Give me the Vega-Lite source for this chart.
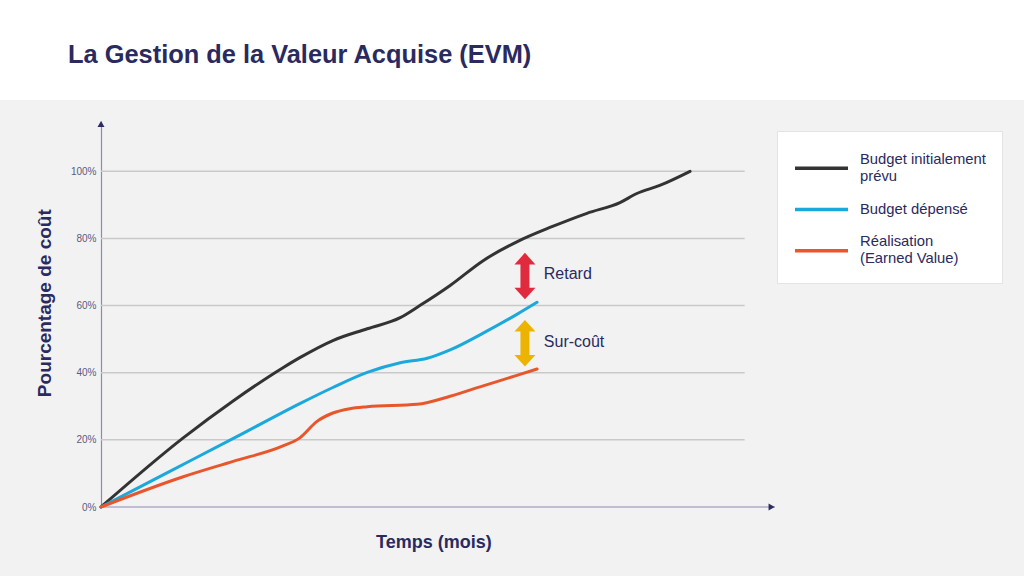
{
  "$schema": "https://vega.github.io/schema/vega-lite/v6.json",
  "background": "#f2f2f2",
  "padding": {"left": 0, "top": 0, "right": 0, "bottom": 26},
  "autosize": {"type": "pad"},
  "spacing": 20,
  "center": true,
  "config": {"view": {"stroke": null}, "font": "Liberation Sans"},
  "datasets": {
    "curves": [
      {"serie": "Budget initialement prévu", "t": 0, "pct": 0},
      {"serie": "Budget initialement prévu", "t": 12.2, "pct": 20.6},
      {"serie": "Budget initialement prévu", "t": 19.6, "pct": 31.6},
      {"serie": "Budget initialement prévu", "t": 27.0, "pct": 41.5},
      {"serie": "Budget initialement prévu", "t": 29.5, "pct": 44.5},
      {"serie": "Budget initialement prévu", "t": 34.4, "pct": 49.6},
      {"serie": "Budget initialement prévu", "t": 39.5, "pct": 53.1},
      {"serie": "Budget initialement prévu", "t": 44.4, "pct": 56.4},
      {"serie": "Budget initialement prévu", "t": 47.3, "pct": 60.0},
      {"serie": "Budget initialement prévu", "t": 51.8, "pct": 66.0},
      {"serie": "Budget initialement prévu", "t": 56.7, "pct": 73.4},
      {"serie": "Budget initialement prévu", "t": 61.7, "pct": 79.0},
      {"serie": "Budget initialement prévu", "t": 66.9, "pct": 83.5},
      {"serie": "Budget initialement prévu", "t": 72.1, "pct": 87.5},
      {"serie": "Budget initialement prévu", "t": 77.0, "pct": 90.7},
      {"serie": "Budget initialement prévu", "t": 79.5, "pct": 93.4},
      {"serie": "Budget initialement prévu", "t": 82.9, "pct": 95.8},
      {"serie": "Budget initialement prévu", "t": 87.4, "pct": 100},
      {"serie": "Budget dépensé", "t": 0, "pct": 0},
      {"serie": "Budget dépensé", "t": 10, "pct": 10.4},
      {"serie": "Budget dépensé", "t": 20, "pct": 20.8},
      {"serie": "Budget dépensé", "t": 29.5, "pct": 30.8},
      {"serie": "Budget dépensé", "t": 34.4, "pct": 35.6},
      {"serie": "Budget dépensé", "t": 39.5, "pct": 40.1},
      {"serie": "Budget dépensé", "t": 44.4, "pct": 43.0},
      {"serie": "Budget dépensé", "t": 48.4, "pct": 44.3},
      {"serie": "Budget dépensé", "t": 51.8, "pct": 46.8},
      {"serie": "Budget dépensé", "t": 56.7, "pct": 51.8},
      {"serie": "Budget dépensé", "t": 61.7, "pct": 57.4},
      {"serie": "Budget dépensé", "t": 64.7, "pct": 61.0},
      {"serie": "Réalisation (Earned Value)", "t": 0, "pct": 0},
      {"serie": "Réalisation (Earned Value)", "t": 12.2, "pct": 9.0},
      {"serie": "Réalisation (Earned Value)", "t": 19.6, "pct": 13.6},
      {"serie": "Réalisation (Earned Value)", "t": 27.0, "pct": 18.2},
      {"serie": "Réalisation (Earned Value)", "t": 29.5, "pct": 20.6},
      {"serie": "Réalisation (Earned Value)", "t": 32.05, "pct": 25.5},
      {"serie": "Réalisation (Earned Value)", "t": 34.4, "pct": 28.0},
      {"serie": "Réalisation (Earned Value)", "t": 36.9, "pct": 29.3},
      {"serie": "Réalisation (Earned Value)", "t": 39.5, "pct": 29.9},
      {"serie": "Réalisation (Earned Value)", "t": 46.9, "pct": 30.6},
      {"serie": "Réalisation (Earned Value)", "t": 51.8, "pct": 33.0},
      {"serie": "Réalisation (Earned Value)", "t": 56.7, "pct": 36.1},
      {"serie": "Réalisation (Earned Value)", "t": 61.7, "pct": 39.2},
      {"serie": "Réalisation (Earned Value)", "t": 64.7, "pct": 41.1}
    ],
    "grid": [
      {"pct": 20, "t": 0, "t2": 95.5},
      {"pct": 40, "t": 0, "t2": 95.5},
      {"pct": 60, "t": 0, "t2": 95.5},
      {"pct": 80, "t": 0, "t2": 95.5},
      {"pct": 100, "t": 0, "t2": 95.5}
    ],
    "baseline": [
      {"pct": 0, "t": 0, "t2": 100}
    ],
    "arrows": [
      {"name": "Retard", "t": 62.9, "pct": 74.0, "pct2": 63.6, "col": "#e02a3d"},
      {"name": "Sur-coût", "t": 62.9, "pct": 54.0, "pct2": 43.6, "col": "#ecb400"}
    ],
    "notes": [
      {"label": "Retard", "t": 65.7, "pct": 67.8},
      {"label": "Sur-coût", "t": 65.7, "pct": 47.55}
    ],
    "axisHeads": [
      {"dir": "up", "t": 0, "pct": 114.1},
      {"dir": "right", "t": 99.5, "pct": 0}
    ]
  },
  "vconcat": [
    {
      "width": 1024,
      "height": 100,
      "view": {"fill": "white", "stroke": null},
      "title": {
        "text": "La Gestion de la Valeur Acquise (EVM)",
        "anchor": "start",
        "frame": "group",
        "orient": "top",
        "offset": -88.3,
        "dx": 68,
        "baseline": "alphabetic",
        "fontSize": 25.4,
        "font": "Liberation Sans",
        "fontWeight": "bold",
        "color": "#2a2a5e"
      },
      "data": {"values": [{"a": 1}]},
      "mark": {"type": "point", "opacity": 0}
    },
    {
      "width": 822,
      "height": 386,
      "layer": [
        {
          "data": {"name": "grid"},
          "mark": {"type": "rule", "color": "#c9c9c9", "strokeWidth": 1.5},
          "encoding": {
            "x": {
              "field": "t", "type": "quantitative",
              "scale": {"domain": [0, 121.96], "nice": false, "zero": false},
              "axis": {
                "labels": false, "ticks": false, "grid": false, "domain": false,
                "title": "Temps (mois)", "titleFontSize": 18, "titleColor": "#2a2a5e",
                "titleFontWeight": "bold", "titleX": 332.4, "titleY": 40.7,
                "titleBaseline": "alphabetic", "titleAlign": "center"
              }
            },
            "x2": {"field": "t2"},
            "y": {
              "field": "pct", "type": "quantitative",
              "scale": {"domain": [0, 115], "nice": false, "zero": false},
              "axis": {
                "values": [0, 20, 40, 60, 80, 100],
                "labelExpr": "datum.value + '%'",
                "labelFontSize": 10, "labelColor": "#5b5a7f", "labelPadding": 5,
                "ticks": false, "grid": false,
                "domainColor": "#8b89b5", "domainWidth": 1.2,
                "title": "Pourcentage de coût", "titleFontSize": 19, "titleColor": "#2a2a5e",
                "titleFontWeight": "bold", "titleX": -50.4, "titleY": 181.7,
                "titleBaseline": "alphabetic", "titleAngle": -90, "titleAlign": "center"
              }
            }
          }
        },
        {
          "data": {"name": "baseline"},
          "mark": {"type": "rule", "color": "#8b89b5", "strokeWidth": 1.2},
          "encoding": {
            "x": {"field": "t", "type": "quantitative"},
            "x2": {"field": "t2"},
            "y": {"field": "pct", "type": "quantitative"}
          }
        },
        {
          "data": {"name": "curves"},
          "mark": {"type": "line", "strokeWidth": 3, "interpolate": "monotone", "strokeCap": "round"},
          "encoding": {
            "x": {"field": "t", "type": "quantitative"},
            "y": {"field": "pct", "type": "quantitative"},
            "color": {
              "field": "serie", "type": "nominal",
              "scale": {
                "domain": ["Budget initialement prévu", "Budget dépensé", "Réalisation (Earned Value)"],
                "range": ["#333333", "#1ba8dc", "#e8572b"]
              },
              "legend": {
                "orient": "none", "legendX": 777, "legendY": 131,
                "title": null, "fillColor": "white", "strokeColor": "#e3e3e3",
                "padding": 16, "symbolType": "stroke", "symbolSize": 2809,
                "symbolStrokeWidth": 3.5, "labelFontSize": 14.8, "labelColor": "#2a2a5e",
                "labelFont": "Liberation Sans", "labelOffset": 10, "rowPadding": 4.2, "labelLimit": 0,
                "labelBaseline": "middle",
                "labelExpr": "datum.label == 'Budget initialement prévu' ? ['Budget initialement', 'prévu'] : datum.label == 'Réalisation (Earned Value)' ? ['Réalisation', '(Earned Value)'] : [datum.label, '']",
                "encoding": {
                  "symbols": {
                    "y": {"value": 21.3}
                  },
                  "labels": {
                    "y": {"value": 21.3},
                    "dy": {"condition": {"test": "datum.value == 'Budget dépensé'", "value": 0}, "value": -8.75},
                    "lineHeight": {"condition": {"test": "datum.value == 'Budget dépensé'", "value": 8.75}, "value": 17.5}
                  }
                }
              }
            }
          }
        },
        {
          "data": {"name": "arrows"},
          "mark": {"type": "rule", "strokeWidth": 9},
          "encoding": {
            "x": {"field": "t", "type": "quantitative"},
            "y": {"field": "pct", "type": "quantitative"},
            "y2": {"field": "pct2"},
            "color": {"field": "col", "type": "nominal", "scale": null}
          }
        },
        {
          "data": {"name": "arrows"},
          "mark": {"type": "point", "filled": true, "opacity": 1, "size": 441, "shape": "M-1,0.55L0,-0.55L1,0.55Z"},
          "encoding": {
            "x": {"field": "t", "type": "quantitative"},
            "y": {"field": "pct", "type": "quantitative"},
            "color": {"field": "col", "type": "nominal", "scale": null}
          }
        },
        {
          "data": {"name": "arrows"},
          "mark": {"type": "point", "filled": true, "opacity": 1, "size": 441, "shape": "M-1,-0.55L0,0.55L1,-0.55Z"},
          "encoding": {
            "x": {"field": "t", "type": "quantitative"},
            "y": {"field": "pct2", "type": "quantitative"},
            "color": {"field": "col", "type": "nominal", "scale": null}
          }
        },
        {
          "data": {"name": "notes"},
          "mark": {"type": "text", "align": "left", "baseline": "alphabetic", "fontSize": 16, "color": "#2a2a5e", "font": "Liberation Sans"},
          "encoding": {
            "x": {"field": "t", "type": "quantitative"},
            "y": {"field": "pct", "type": "quantitative"},
            "text": {"field": "label"}
          }
        },
        {
          "data": {"name": "axisHeads"},
          "mark": {"type": "point", "filled": true, "opacity": 1, "size": 49, "color": "#2d2b63"},
          "encoding": {
            "x": {"field": "t", "type": "quantitative"},
            "y": {"field": "pct", "type": "quantitative"},
            "shape": {
              "field": "dir", "type": "nominal",
              "scale": {"domain": ["up", "right"], "range": ["triangle-up", "triangle-right"]},
              "legend": null
            }
          }
        }
      ]
    }
  ]
}
